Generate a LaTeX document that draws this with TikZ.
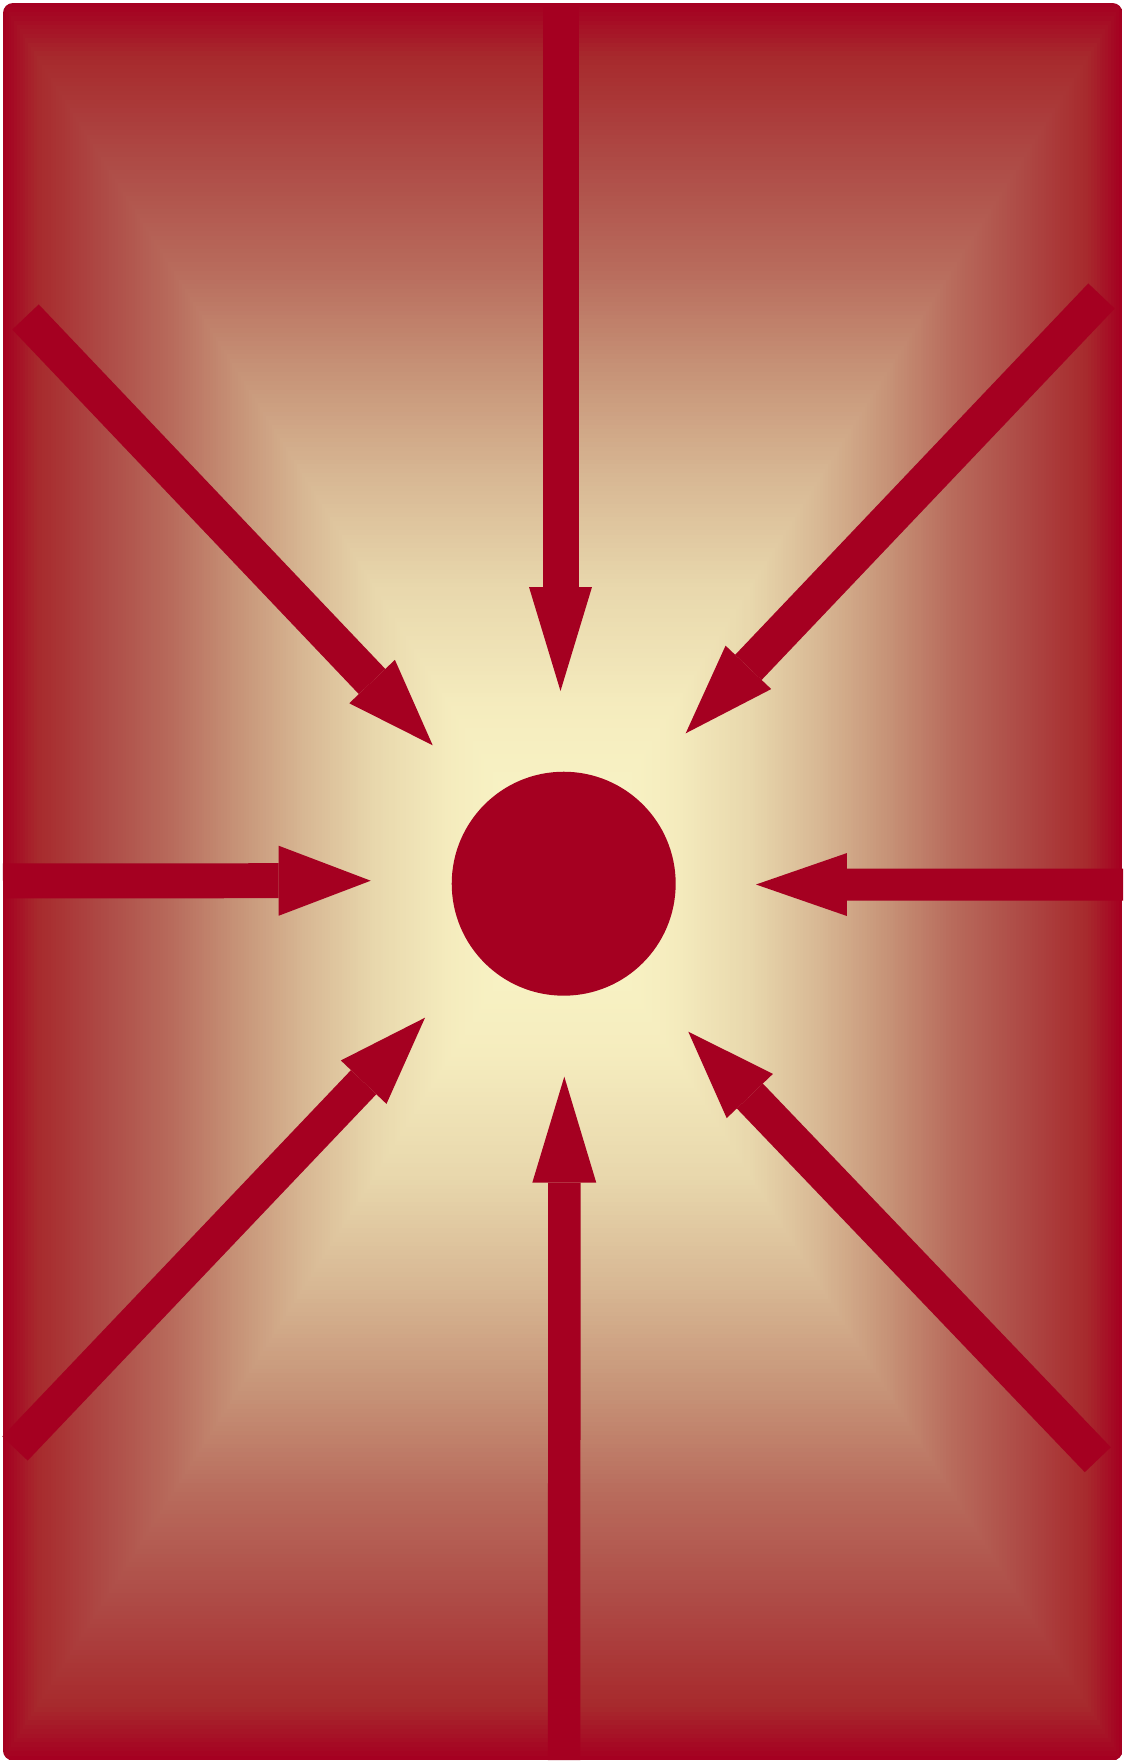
\documentclass[tikz,border=0pt]{standalone}
\usetikzlibrary{arrows.meta}
\definecolor{crim}{HTML}{A50021}
\definecolor{g0}{HTML}{A50021}
\definecolor{g1}{HTML}{A72A2D}
\definecolor{g2}{HTML}{AE4B46}
\definecolor{g3}{HTML}{B86B5C}
\definecolor{g4}{HTML}{C79478}
\definecolor{g5}{HTML}{D8B894}
\definecolor{g6}{HTML}{E8D7AC}
\definecolor{g7}{HTML}{F5ECBE}
\definecolor{g8}{HTML}{FBF9CA}
\tikzset{
  arr/.style n args={3}{draw=crim, line width=#1, -{Triangle[length=#2, width=#3, line width=0pt]}},
  sunnode/.style={circle, fill=crim, draw=none, inner sep=0pt, minimum size=4.48cm}
}
\begin{document}
\begin{tikzpicture}[x=0.02cm, y=-0.02cm]
\useasboundingbox (0,0) rectangle (1125,1762);
\fill[white] (0,0) rectangle (1125,1762);
% rectangular gradient background
\begin{scope}
\clip[rounded corners=0.2cm] (3,3) rectangle (1122.5,1760.5);
\foreach \ta/\tb/\ca/\cb in {1.00/0.94/g0/g1, 0.94/0.82/g1/g2, 0.82/0.70/g2/g3, 0.70/0.58/g3/g4, 0.58/0.46/g4/g5, 0.46/0.34/g5/g6, 0.34/0.20/g6/g7, 0.20/0.00/g7/g8} {
  \pgfmathtruncatemacro{\nn}{round((\ta-\tb)/0.005)-1}
  \foreach \k in {0,...,\nn} {
    \pgfmathsetmacro{\tv}{\ta-\k*0.005}
    \pgfmathsetmacro{\pv}{100*\k*0.005/(\ta-\tb)}
    \fill[\cb!\pv!\ca] ({562.5-\tv*559.5},{881.5-\tv*878.5}) rectangle ({562.5+\tv*559.5},{881.5+\tv*878.5});
  }
}
\end{scope}
% centre
\node[sunnode] (sun) at (563.7,883.7) {};
% arrow ends
\coordinate (t1) at (560.5,3);      \coordinate (h1) at (560.5,691);
\coordinate (t2) at (1101.5,296);   \coordinate (h2) at (685.7,733.3);
\coordinate (t3) at (1123,884.6);   \coordinate (h3) at (756,884.5);
\coordinate (t4) at (1097.8,1459.7);\coordinate (h4) at (688.3,1031.7);
\coordinate (t5) at (564.2,1760);   \coordinate (h5) at (564.3,1076.7);
\coordinate (t6) at (15,1448.5);    \coordinate (h6) at (425,1017.7);
\coordinate (t7) at (3,880.8);      \coordinate (h7) at (370.7,880.7);
\coordinate (t8) at (25.5,317);     \coordinate (h8) at (432.7,745.3);
\draw[arr={0.72cm}{2.08cm}{1.26cm}] (t1) -- (h1);
\draw[arr={0.73cm}{1.82cm}{1.26cm}] (t2) -- (h2);
\draw[arr={0.64cm}{1.82cm}{1.26cm}] (t3) -- (h3);
\draw[arr={0.72cm}{1.78cm}{1.28cm}] (t4) -- (h4);
\draw[arr={0.65cm}{2.12cm}{1.28cm}] (t5) -- (h5);
\draw[arr={0.70cm}{1.78cm}{1.26cm}] (t6) -- (h6);
\draw[arr={0.70cm}{1.84cm}{1.40cm}] (t7) -- (h7);
\draw[arr={0.73cm}{1.76cm}{1.26cm}] (t8) -- (h8);
\end{tikzpicture}
\end{document}
